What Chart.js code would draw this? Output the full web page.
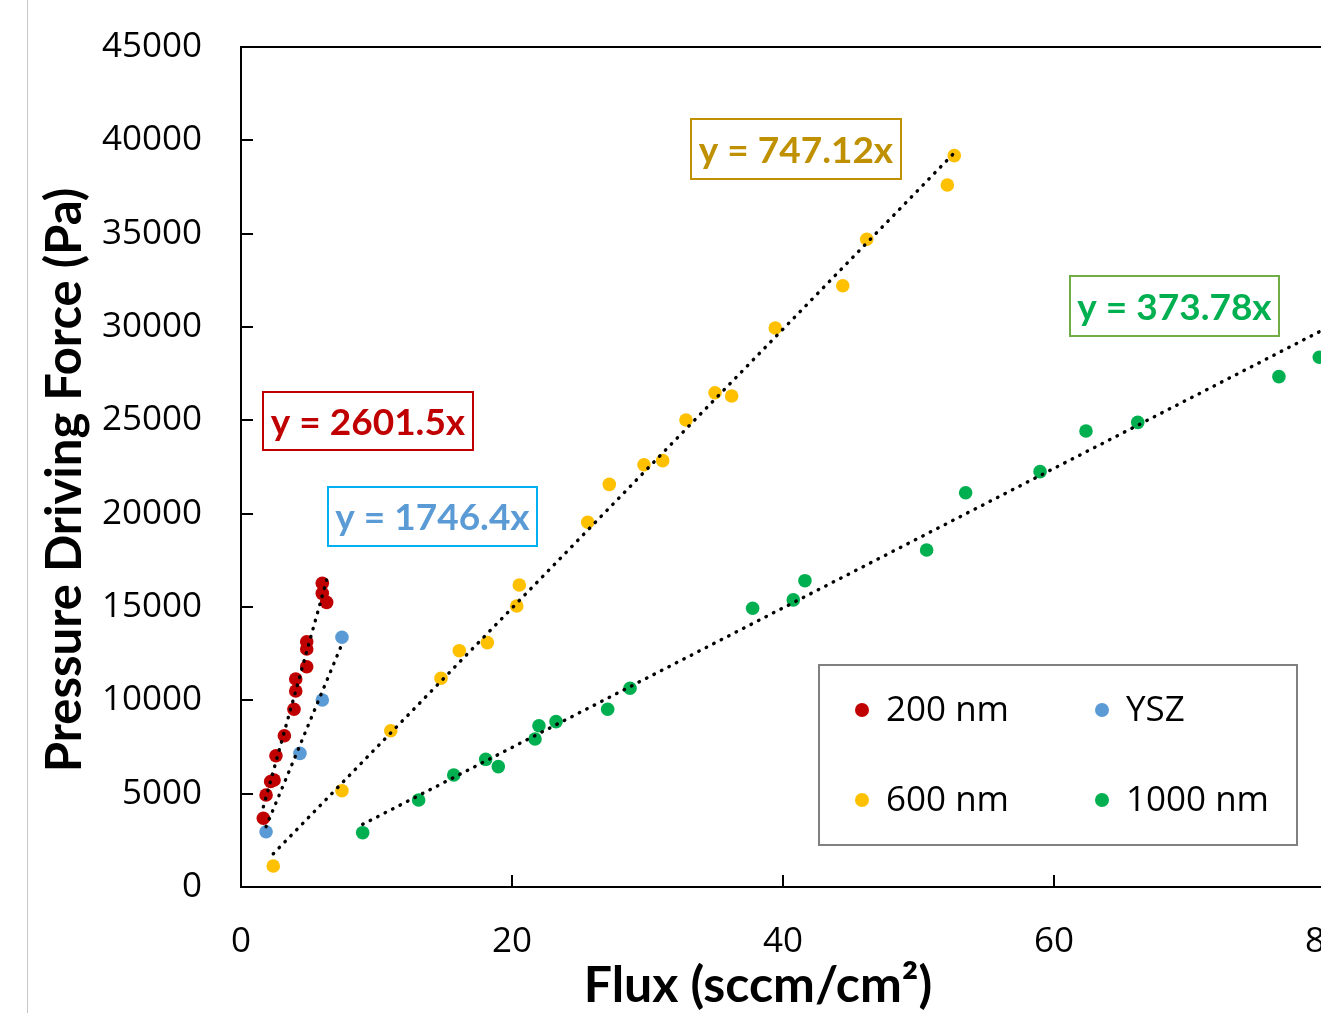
<!DOCTYPE html>
<html>
<head>
<meta charset="utf-8">
<title>Pressure Driving Force vs Flux</title>
<script src="https://cdn.jsdelivr.net/npm/chart.js@4.4.1/dist/chart.umd.min.js"></script>
<style>
  html, body { margin: 0; padding: 0; background: #fff; overflow: hidden; }
  #wrap { position: relative; width: 1321px; height: 1013px; overflow: hidden; }
  #chart { position: absolute; left: 0; top: 0; }
  #edge { position: absolute; left: 27px; top: 0; width: 1px; height: 1013px; background: #c6c6c6; }
</style>
</head>
<body>
<div id="wrap">
  <canvas id="chart" width="1360" height="1013"></canvas>
  <div id="edge"></div>
</div>
<script>
/* =====================
 * DADOS
 * ===================== */

const seriesNames = ["200 nm", "YSZ", "600 nm", "1000 nm"];

const flux200 = [6.0, 6.0, 6.32, 4.85, 4.85, 4.85, 4.04, 4.04, 3.91, 3.20, 2.58, 2.19, 2.44, 1.85, 1.65];
const force200 = [16270, 15730, 15250, 13140, 12750, 11800, 11140, 10500, 9520, 8100, 7030, 5650, 5730, 4930, 3680];

const fluxYSZ = [1.85, 4.35, 6.0, 7.45];
const forceYSZ = [2960, 7160, 10020, 13380];

const flux600 = [2.38, 7.45, 11.05, 14.76, 16.11, 18.18, 20.35, 20.54, 25.59, 27.18, 29.74, 31.12, 32.84, 34.98, 36.21, 39.43, 44.41, 46.18, 52.13, 52.64];
const force600 = [1125, 5160, 8370, 11180, 12660, 13090, 15050, 16180, 19540, 21570, 22620, 22840, 25020, 26480, 26300, 29950, 32210, 34700, 37610, 39180];

const flux1000 = [8.98, 13.11, 15.70, 18.06, 18.99, 21.70, 21.99, 23.25, 27.06, 28.71, 37.76, 40.76, 41.62, 50.60, 53.48, 58.97, 62.36, 66.18, 76.60, 79.58];
const force1000 = [2910, 4660, 6000, 6840, 6450, 7930, 8640, 8860, 9520, 10650, 14930, 15380, 16410, 18050, 21120, 22250, 24430, 24890, 27340, 28380];

// inclinações das linhas de tendência (y = a·x), como impressas no gráfico
const trendSlopes = [2601.5, 1746.4, 747.12, 373.78];

const xTickValues = [0, 20, 40, 60, 80];
const yTickValues = [0, 5000, 10000, 15000, 20000, 25000, 30000, 35000, 40000, 45000];

const xTitle = "Flux (sccm/cm²)";
const yTitle = "Pressure Driving Force (Pa)";

/* =====================
 * ESTILO
 * ===================== */

const seriesColors = ["#C00000", "#5B9BD5", "#FFC000", "#00B050"];

// caixas das equações (pixels no canvas)
const eqBoxes = [
  { left: 263, top: 392, w: 210, h: 58, text: "#C00000", border: "#C00000" },
  { left: 328, top: 487, w: 209, h: 59, text: "#5B9BD5", border: "#00B0F0" },
  { left: 691, top: 119, w: 210, h: 60, text: "#BF9000", border: "#BF9000" },
  { left: 1070, top: 276, w: 209, h: 60, text: "#00B050", border: "#70AD47" }
];

const TICK_FONT = { family: "'Open Sans', sans-serif", size: 35 };

/* =====================
 * DATASETS
 * ===================== */

function toPoints(xs, ys) {
  return xs.map((x, i) => ({ x, y: ys[i] }));
}

function trendPoints(xs, slope) {
  const x0 = Math.min(...xs);
  const x1 = Math.max(...xs);
  return [{ x: x0, y: slope * x0 }, { x: x1, y: slope * x1 }];
}

const allFlux = [flux200, fluxYSZ, flux600, flux1000];
const allForce = [force200, forceYSZ, force600, force1000];

const pointSets = seriesNames.map((name, i) => ({
  label: name,
  data: toPoints(allFlux[i], allForce[i]),
  backgroundColor: seriesColors[i],
  borderWidth: 0,
  pointRadius: 6.8,
  order: 2 + i
}));

// linha pontilhada preta (pontos redondos, passo ~8.4px)
const trendSets = trendSlopes.map((slope, i) => ({
  label: "Tendência " + seriesNames[i],
  data: trendPoints(allFlux[i], slope),
  showLine: true,
  borderColor: "#000",
  borderWidth: 3.4,
  borderCapStyle: "round",
  borderDash: [0.5, 7.9],
  pointRadius: 0,
  order: 0
}));

/* =====================
 * PLUGINS
 * ===================== */

// moldura superior + marcas de escala para dentro
const frameAndTicks = {
  id: "frameAndTicks",
  afterDatasetsDraw(chart) {
    const { ctx, chartArea: a, scales: { x, y } } = chart;
    ctx.save();
    ctx.strokeStyle = "#000";
    ctx.lineWidth = 2;
    ctx.beginPath();
    ctx.moveTo(a.left, a.top);
    ctx.lineTo(a.right, a.top);
    ctx.lineTo(a.right, a.bottom);
    x.ticks.forEach(t => {
      const px = Math.round(x.getPixelForValue(t.value));
      ctx.moveTo(px, a.bottom);
      ctx.lineTo(px, a.bottom - 12);
    });
    y.ticks.forEach(t => {
      const py = Math.round(y.getPixelForValue(t.value));
      ctx.moveTo(a.left, py);
      ctx.lineTo(a.left + 12, py);
    });
    ctx.stroke();
    ctx.restore();
  }
};

// títulos dos eixos (posicionados como no original, fora do centro do eixo)
const axisTitles = {
  id: "axisTitles",
  afterDraw(chart) {
    const ctx = chart.ctx;
    ctx.save();
    ctx.fillStyle = "#000";
    ctx.textAlign = "center";
    ctx.textBaseline = "middle";
    ctx.font = "bold 50px Lato, sans-serif";
    ctx.fillText(xTitle, 758, 986);
    ctx.translate(65, 480);
    ctx.rotate(-Math.PI / 2);
    ctx.font = "bold 49px Lato, sans-serif";
    ctx.fillText(yTitle, 0, 0);
    ctx.restore();
  }
};

// rótulos "y = a x"
const equationLabels = {
  id: "equationLabels",
  afterDatasetsDraw(chart) {
    const ctx = chart.ctx;
    ctx.save();
    ctx.font = "bold 37px Lato, sans-serif";
    ctx.textAlign = "center";
    ctx.textBaseline = "middle";
    trendSlopes.forEach((slope, i) => {
      const b = eqBoxes[i];
      ctx.fillStyle = "#fff";
      ctx.fillRect(b.left, b.top, b.w, b.h);
      ctx.strokeStyle = b.border;
      ctx.lineWidth = 2;
      ctx.strokeRect(b.left, b.top, b.w, b.h);
      ctx.fillStyle = b.text;
      ctx.fillText("y = " + slope + "x", b.left + b.w / 2, b.top + b.h / 2 + 2);
    });
    ctx.restore();
  }
};

// legenda 2x2 dentro da área do gráfico
const boxLegend = {
  id: "boxLegend",
  afterDraw(chart) {
    const ctx = chart.ctx;
    const box = { left: 819, top: 665, w: 478, h: 180 };
    const cols = [862, 1102];
    const rows = [710, 800];
    ctx.save();
    ctx.fillStyle = "#fff";
    ctx.fillRect(box.left, box.top, box.w, box.h);
    ctx.strokeStyle = "#808080";
    ctx.lineWidth = 2;
    ctx.strokeRect(box.left, box.top, box.w, box.h);
    ctx.font = "35px 'Open Sans', sans-serif";
    ctx.textBaseline = "middle";
    ctx.textAlign = "left";
    pointSets.forEach((ds, i) => {
      const cx = cols[i % 2];
      const cy = rows[Math.floor(i / 2)];
      ctx.fillStyle = ds.backgroundColor;
      ctx.beginPath();
      ctx.arc(cx, cy, 7, 0, Math.PI * 2);
      ctx.fill();
      ctx.fillStyle = "#000";
      ctx.fillText(ds.label, cx + 24, cy + 1);
    });
    ctx.restore();
  }
};

/* =====================
 * GRÁFICO
 * ===================== */

new Chart(document.getElementById("chart"), {
  type: "scatter",
  data: { datasets: [...trendSets, ...pointSets] },
  options: {
    responsive: false,
    animation: false,
    layout: { padding: { top: 47, right: 35, bottom: 0, left: 0 } },
    plugins: {
      legend: { display: false },
      tooltip: { enabled: false }
    },
    scales: {
      x: {
        type: "linear",
        min: 0,
        max: 80,
        afterBuildTicks: (s) => { s.ticks = xTickValues.map(v => ({ value: v })); },
        afterFit: (s) => { s.height = 126; s.paddingLeft = 0; s.paddingRight = 0; },
        grid: { drawOnChartArea: false, drawTicks: false },
        border: { display: true, color: "#000", width: 2 },
        ticks: { color: "#000", font: TICK_FONT, padding: 34, maxRotation: 0, callback: (v) => String(v) }
      },
      y: {
        type: "linear",
        min: 0,
        max: 45000,
        afterBuildTicks: (s) => { s.ticks = yTickValues.map(v => ({ value: v })); },
        afterFit: (s) => { s.width = 241; s.paddingTop = 0; s.paddingBottom = 0; },
        grid: { drawOnChartArea: false, drawTicks: false },
        border: { display: true, color: "#000", width: 2 },
        ticks: { color: "#000", font: TICK_FONT, padding: 39, callback: (v) => String(v) }
      }
    }
  },
  plugins: [frameAndTicks, equationLabels, boxLegend, axisTitles]
});
</script>
</body>
</html>
